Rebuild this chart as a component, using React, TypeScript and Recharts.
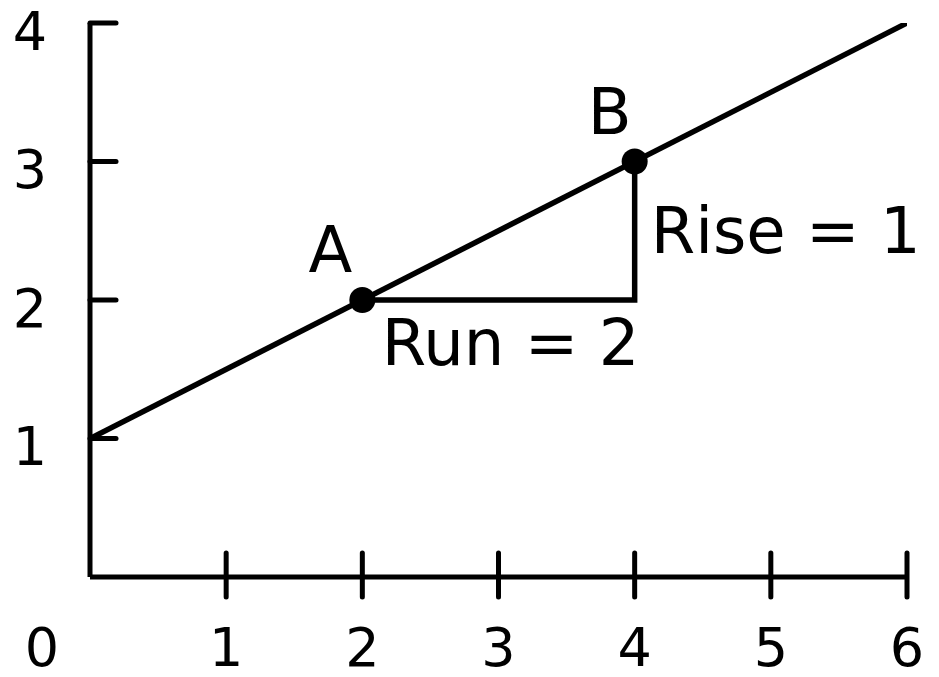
import { ComposedChart, Line, Scatter, XAxis, YAxis, ReferenceDot } from "recharts";

const xTicks = [0, 1, 2, 3, 4, 5, 6];
const yTicks = [1, 2, 3, 4];

const lineData = [
  { x: 0, y: 1 },
  { x: 6, y: 4 },
];

const triangleData = [
  { x: 2, y: 2 },
  { x: 4, y: 2 },
  { x: 4, y: 3 },
];

const pointData = [
  { x: 2, y: 2, name: "A" },
  { x: 4, y: 3, name: "B" },
];

const riseLabel = "Rise = 1";
const runLabel = "Run = 2";

const FONT = "'DejaVu Sans', sans-serif";
const INK = "#000";

const XTick = (props: any) => {
  const { x, y, payload } = props;
  const v = payload.value;
  return (
    <g>
      {v !== 0 && (
        <line x1={x} y1={y - 24} x2={x} y2={y + 20} stroke={INK} strokeWidth={5} strokeLinecap="round" />
      )}
      <text
        x={v === 0 ? x - 48 : x}
        y={y + 70}
        textAnchor="middle"
        dominantBaseline="central"
        fontFamily={FONT}
        fontSize={54}
        fill={INK}
      >
        {v}
      </text>
    </g>
  );
};

const YTick = (props: any) => {
  const { x, y, payload } = props;
  return (
    <g>
      <line x1={x} y1={y} x2={x + 26} y2={y} stroke={INK} strokeWidth={5} strokeLinecap="round" />
      <text
        x={x - 60}
        y={y + 8}
        textAnchor="middle"
        dominantBaseline="central"
        fontFamily={FONT}
        fontSize={54}
        fill={INK}
      >
        {payload.value}
      </text>
    </g>
  );
};

const PointShape = (props: any) => {
  const { cx, cy, payload } = props;
  const dx = payload.name === "A" ? -32 : -25;
  return (
    <g>
      <circle cx={cx} cy={cy} r={13} fill={INK} />
      <text
        x={cx + dx}
        y={cy - 50}
        textAnchor="middle"
        dominantBaseline="central"
        fontFamily={FONT}
        fontSize={64}
        fill={INK}
      >
        {payload.name}
      </text>
    </g>
  );
};

const riseMid = {
  x: triangleData[1].x,
  y: (triangleData[1].y + triangleData[2].y) / 2,
};
const runMid = {
  x: (triangleData[0].x + triangleData[1].x) / 2,
  y: triangleData[0].y,
};

export default function App() {
  return (
    <div style={{ position: "absolute", left: 0, top: 0, background: "#fff" }}>
      <ComposedChart width={939} height={677} margin={{ top: 23, right: 32, bottom: 0, left: 0 }}>
        <XAxis
          type="number"
          dataKey="x"
          domain={[0, 6]}
          ticks={xTicks}
          height={100}
          tickSize={0}
          tickMargin={0}
          tickLine={false}
          axisLine={{ stroke: INK, strokeWidth: 5 }}
          tick={<XTick />}
          interval={0}
          allowDataOverflow
        />
        <YAxis
          type="number"
          dataKey="y"
          domain={[0, 4]}
          ticks={yTicks}
          width={90}
          tickSize={0}
          tickMargin={0}
          tickLine={false}
          axisLine={{ stroke: INK, strokeWidth: 5 }}
          tick={<YTick />}
          interval={0}
          allowDataOverflow
        />
        <Line
          data={lineData}
          dataKey="y"
          stroke={INK}
          strokeWidth={5.5}
          dot={false}
          activeDot={false}
          isAnimationActive={false}
          type="linear"
        />
        <Line
          data={triangleData}
          dataKey="y"
          stroke={INK}
          strokeWidth={5.5}
          dot={false}
          activeDot={false}
          isAnimationActive={false}
          type="linear"
        />
        <Scatter data={pointData} dataKey="y" shape={<PointShape />} isAnimationActive={false} />
        <ReferenceDot
          x={riseMid.x}
          y={riseMid.y}
          r={0}
          stroke="none"
          label={{
            value: riseLabel,
            position: "right",
            offset: 16,
            fontFamily: FONT,
            fontSize: 64,
            fill: INK,
          }}
        />
        <ReferenceDot
          x={runMid.x}
          y={runMid.y}
          r={0}
          stroke="none"
          label={{
            value: runLabel,
            position: "bottom",
            offset: 20,
            dx: 12,
            fontFamily: FONT,
            fontSize: 64,
            fill: INK,
          }}
        />
      </ComposedChart>
    </div>
  );
}
